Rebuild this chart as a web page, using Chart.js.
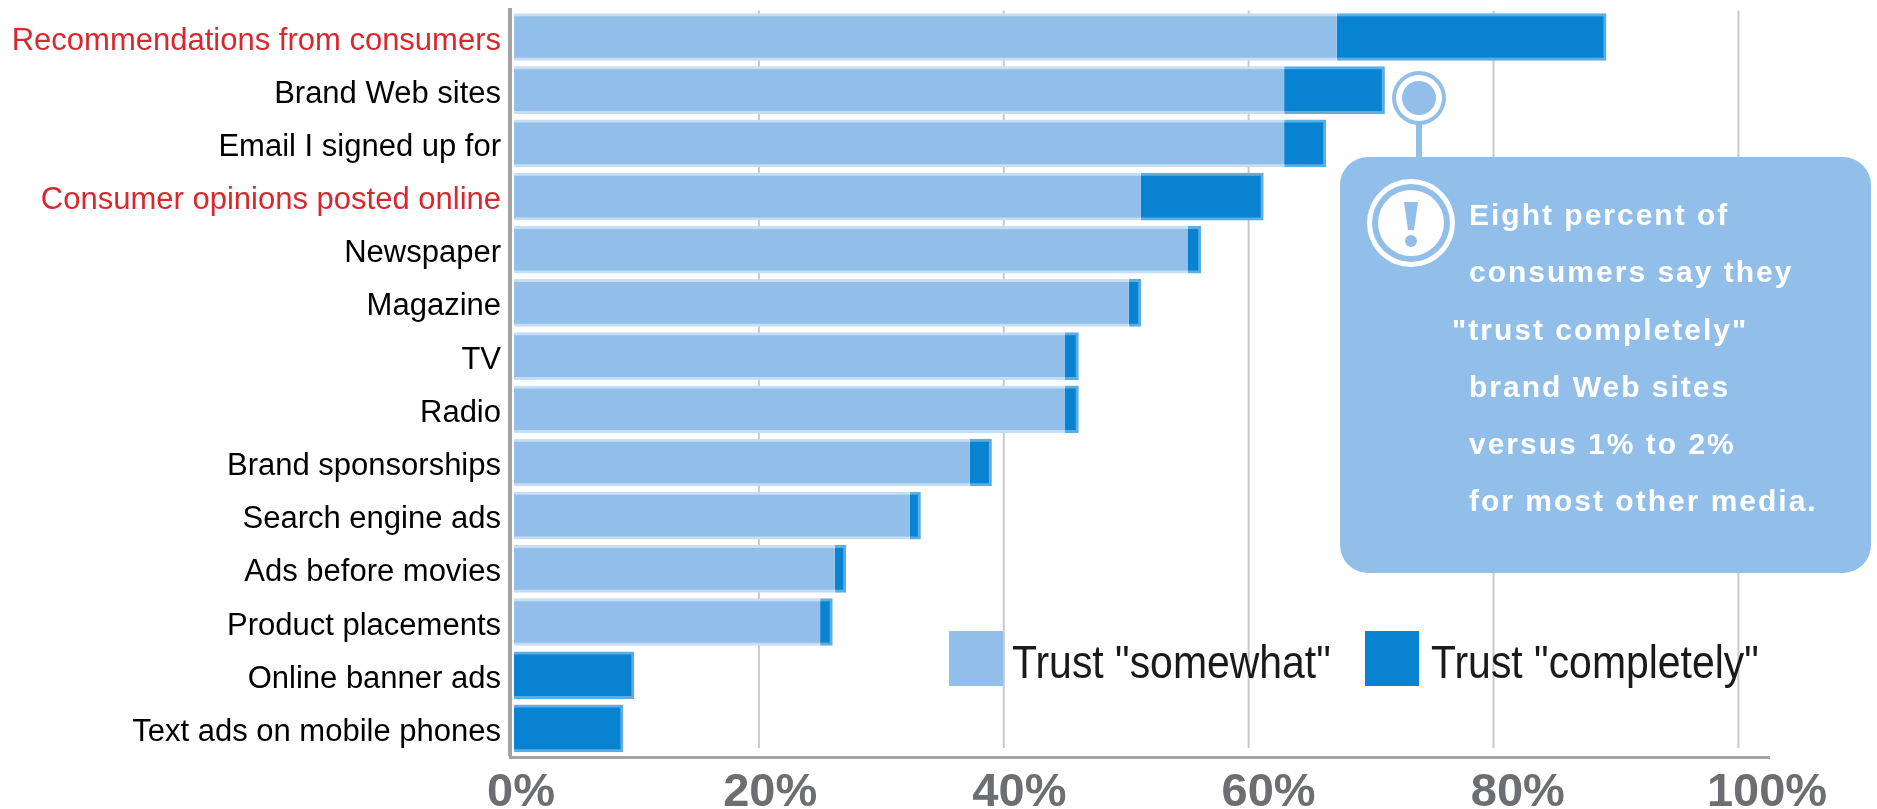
<!DOCTYPE html>
<html>
<head>
<meta charset="utf-8">
<title>Trust in advertising</title>
<style>
    html, body { margin: 0; padding: 0; background: #fff; }
    canvas { display: block; }
</style>
<script src="https://cdn.jsdelivr.net/npm/chart.js@4"></script>
</head>
<body>
<canvas id="chartTrust" width="1877" height="809"></canvas>
<script>
const categories = [
    'Recommendations from consumers', 'Brand Web sites', 'Email I signed up for',
    'Consumer opinions posted online', 'Newspaper', 'Magazine', 'TV', 'Radio',
    'Brand sponsorships', 'Search engine ads', 'Ads before movies',
    'Product placements', 'Online banner ads', 'Text ads on mobile phones'
];
const somewhat = [67.2, 62.9, 62.9, 51.2, 55, 50.2, 45, 45, 37.2, 32.3, 26.2, 25, 0, 0];
const completely = [22, 8.2, 3.4, 10, 1.1, 1, 1.1, 1.1, 1.8, 0.9, 0.9, 1, 9.8, 8.9];
const redCategories = ['Recommendations from consumers', 'Consumer opinions posted online'];
const tickValues = [0, 20, 40, 60, 80, 100];
const calloutLines = [
    'Eight percent of', 'consumers say they', '"trust completely"',
    'brand Web sites', 'versus 1% to 2%', 'for most other media.'
];

const LIGHT = '#92bfe9';
const DARK = '#0783d2';

function circle(ctx, x, y, r, color) {
    ctx.fillStyle = color;
    ctx.beginPath();
    ctx.arc(x, y, r, 0, Math.PI * 2);
    ctx.fill();
}

// vertical lines stop short of the axis line in the original
const gridLines = {
    id: 'gridLines',
    beforeDatasetsDraw(chart) {
        const ctx = chart.ctx;
        const x = chart.scales.x;
        ctx.save();
        ctx.strokeStyle = '#c9c9c9';
        ctx.lineWidth = 2;
        tickValues.slice(1).forEach(v => {
            const px = x.getPixelForValue(v);
            ctx.beginPath();
            ctx.moveTo(px, chart.chartArea.top);
            ctx.lineTo(px, 748);
            ctx.stroke();
        });
        ctx.restore();
    }
};

const callout = {
    id: 'callout',
    afterDatasetsDraw(chart) {
        const ctx = chart.ctx;
        ctx.save();

        // marker next to the Brand Web sites bar
        ctx.fillStyle = LIGHT;
        ctx.fillRect(1416, 120, 6, 40);
        circle(ctx, 1419, 98, 27, LIGHT);
        circle(ctx, 1419, 98, 23, '#fff');
        circle(ctx, 1419, 98, 17, LIGHT);

        ctx.fillStyle = LIGHT;
        ctx.beginPath();
        ctx.roundRect(1340, 157, 531, 416, 28);
        ctx.fill();

        // exclamation icon
        circle(ctx, 1411, 223, 44, '#fff');
        circle(ctx, 1411, 223, 39, LIGHT);
        circle(ctx, 1411, 223, 33, '#fff');
        ctx.fillStyle = LIGHT;
        ctx.beginPath();
        ctx.moveTo(1404, 202);
        ctx.lineTo(1418, 202);
        ctx.lineTo(1414, 230);
        ctx.lineTo(1408, 230);
        ctx.closePath();
        ctx.fill();
        circle(ctx, 1411, 241, 6, LIGHT);

        ctx.fillStyle = '#fff';
        ctx.font = 'bold 30px "Liberation Sans"';
        ctx.letterSpacing = '2px';
        ctx.textAlign = 'left';
        ctx.textBaseline = 'middle';
        calloutLines.forEach((line, i) => {
            const x = i === 2 ? 1452 : 1469;
            ctx.fillText(line, x, 217 + i * 57.2);
        });
        ctx.letterSpacing = '0px';

        // legend
        const legend = [
            { x: 949, textX: 1012, color: LIGHT },
            { x: 1365, textX: 1431, color: DARK }
        ];
        ctx.font = '46px "Liberation Sans"';
        legend.forEach((item, i) => {
            ctx.fillStyle = item.color;
            ctx.fillRect(item.x, 631, 54, 55);
            ctx.fillStyle = '#1a1a1a';
            ctx.save();
            ctx.translate(item.textX, 665);
            ctx.scale(0.89, 1);
            ctx.fillText(chart.data.datasets[i].label, 0, 0);
            ctx.restore();
        });

        ctx.restore();
    }
};

new Chart(document.getElementById('chartTrust').getContext('2d'), {
    type: 'bar',
    data: {
        labels: categories,
        datasets: [{
            label: 'Trust "somewhat"',
            data: somewhat,
            backgroundColor: LIGHT,
            borderColor: '#c6def5',
            borderWidth: { top: 3, bottom: 3, left: 0, right: 0 },
            borderSkipped: false,
            barThickness: 47
        }, {
            label: 'Trust "completely"',
            data: completely,
            backgroundColor: DARK,
            borderColor: '#5cade2',
            borderWidth: { top: 3, bottom: 3, left: 0, right: 3 },
            borderSkipped: false,
            barThickness: 47
        }]
    },
    options: {
        indexAxis: 'y',
        responsive: false,
        animation: false,
        layout: { padding: { top: 10.4, right: 108, bottom: 0, left: 0 } },
        plugins: {
            legend: { display: false },
            tooltip: { enabled: false }
        },
        scales: {
            x: {
                type: 'linear',
                stacked: true,
                weight: 0,
                min: -0.33,
                max: 102.5,
                grid: { display: false, drawTicks: false },
                border: { display: false },
                ticks: { display: false },
                afterFit: function(scale) { scale.height = 2; }
            },
            // tick labels sit a little right of the gridlines and drift further along the axis
            xTicks: {
                type: 'linear',
                axis: 'x',
                position: 'bottom',
                weight: 1,
                min: -0.88,
                max: 100.16,
                grid: { display: false, drawTicks: false },
                border: { display: true, color: '#a3a3a3', width: 3 },
                ticks: {
                    color: '#6d6e71',
                    padding: 8,
                    maxRotation: 0,
                    font: { family: '"Liberation Sans"', weight: 'bold', size: 47 },
                    callback: function(value) { return value + '%'; }
                },
                afterBuildTicks: function(scale) {
                    scale.ticks = tickValues.map(v => ({ value: v }));
                },
                afterFit: function(scale) { scale.height = 52; }
            },
            y: {
                stacked: true,
                grid: { display: false, drawTicks: false },
                border: { display: true, color: '#a3a3a3', width: 4 },
                ticks: {
                    padding: 9,
                    labelOffset: 4,
                    autoSkip: false,
                    font: { family: '"Liberation Sans"', size: 31 },
                    color: function(context) {
                        return redCategories.includes(categories[context.index]) ? '#d9282d' : '#000';
                    }
                },
                afterFit: function(scale) {
                    scale.width = 510;
                    scale.paddingTop = 0;
                    scale.paddingBottom = 0;
                }
            }
        }
    },
    plugins: [gridLines, callout]
});
</script>
</body>
</html>
